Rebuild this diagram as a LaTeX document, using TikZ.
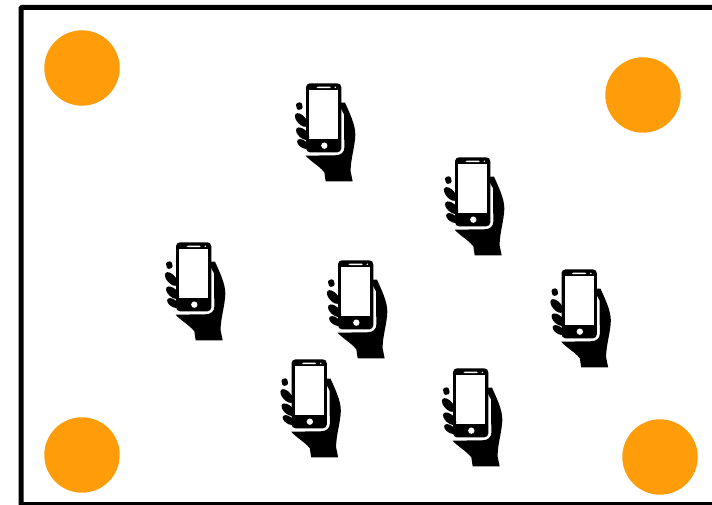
\documentclass[tikz,border=0pt]{standalone}
\definecolor{dot}{HTML}{FF9C0A}
\tikzset{
  hub/.style={fill=dot,draw=none},
  phonehand/.pic={
    \begin{scope}[x=0.3333pt,y=-0.3333pt]
      % hand
      \fill[black] (163,92) .. controls (165,84) and (173,78) .. (180,83)
        .. controls (192,110) and (212,150) .. (211,180)
        .. controls (210,215) and (196,255) .. (197,290)
        -- (203,319) -- (122,319) -- (118,292)
        .. controls (102,272) and (80,262) .. (62,242)
        -- (150,241)
        .. controls (168,241) and (178,232) .. (178,218)
        -- (177,118) -- cycle;
      % phone
      \fill[black,rounded corners=4pt] (63,25) rectangle (169,232);
      \fill[white] (73,46) rectangle (160,192);
      \fill[white,rounded corners=1pt] (95,35) rectangle (137,39.5);
      \fill[white] (151,37) circle[radius=2.5];
      \fill[white] (118,212) circle[radius=9.5];
      % fingers
      \fill[black,rounded corners=1.5pt] (32,85) -- (49,81) -- (54,101) -- (37,106) -- cycle;
      \fill[black,rotate around={-48:(49,135)}] (49,135) ellipse[x radius=25,y radius=13];
      \fill[black,rotate around={-42:(53,176)}] (53,176) ellipse[x radius=24,y radius=13];
      \fill[black,rotate around={-35:(54,207)}] (54,207) ellipse[x radius=20,y radius=11];
    \end{scope}
  }
}
\begin{document}
\begin{tikzpicture}[x=1pt,y=-1pt]
  \useasboundingbox (0,0) rectangle (712,505);
  \fill[white] (0,0) rectangle (712,505);
  \draw[line width=5pt,rounded corners=1pt] (21,505) -- (21,7.5) -- (720,7.5);
  \draw[line width=3pt] (21,503.5) -- (712,503.5);
  \foreach \cx/\cy in {82/68,643/95,82/455,660/457}
    \fill[hub] (\cx,\cy) circle[radius=37.7];
  \foreach \ox/\oy in {285/75,434/149,155/234,317/252,540.5/261,270.5/351,432/360}
    \pic at (\ox,\oy) {phonehand};
\end{tikzpicture}
\end{document}
